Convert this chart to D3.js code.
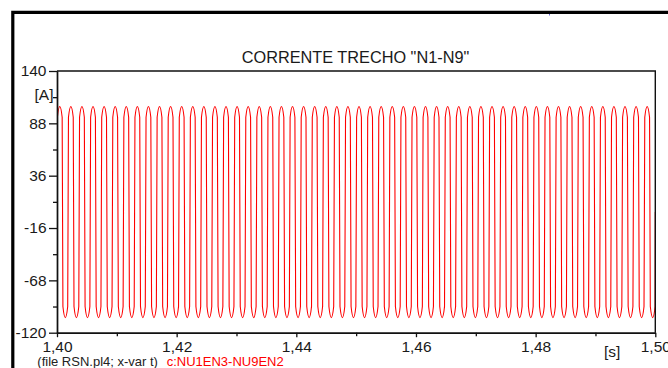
<!DOCTYPE html>
<html>
<head>
<meta charset="utf-8">
<script src="https://cdn.jsdelivr.net/npm/d3@7"></script>
<style>
  html, body { margin: 0; padding: 0; background: #fff; }
  svg { display: block; font-family: "Liberation Sans", Arial, sans-serif; }
</style>
</head>
<body>
<svg id="chart" width="668" height="368"></svg>
<script>
// ---- data -------------------------------------------------------------
const title = 'CORRENTE TRECHO "N1-N9"';
const yMajorTicks = [140, 88, 36, -16, -68, -120];
const yMinorTicks = [114, 62, 10, -42, -94];
const xMajorTicks = [1.40, 1.42, 1.44, 1.46, 1.48, 1.50];
const xMinorTicks = [1.41, 1.43, 1.45, 1.47, 1.49];
const yUnit = "[A]";
const xUnit = "[s]";
const fileNote = "(file RSN.pl4; x-var t)";
const seriesName = "c:NU1EN3-NU9EN2";

// current waveform vertices: start, then for every crest / trough its
// leading shoulder, the extreme and its trailing shoulder, then the end  [s]
const time = [
  1.400000,
  1.400063, 1.400463, 1.400863,  1.400989, 1.401389, 1.401789,
  1.401915, 1.402315, 1.402715,  1.402842, 1.403242, 1.403642,
  1.403768, 1.404168, 1.404568,  1.404694, 1.405094, 1.405494,
  1.405620, 1.406020, 1.406420,  1.406546, 1.406946, 1.407346,
  1.407473, 1.407873, 1.408273,  1.408399, 1.408799, 1.409199,
  1.409325, 1.409725, 1.410125,  1.410251, 1.410651, 1.411051,
  1.411177, 1.411577, 1.411977,  1.412104, 1.412504, 1.412904,
  1.413030, 1.413430, 1.413830,  1.413956, 1.414356, 1.414756,
  1.414882, 1.415282, 1.415682,  1.415808, 1.416208, 1.416608,
  1.416735, 1.417135, 1.417535,  1.417661, 1.418061, 1.418461,
  1.418587, 1.418987, 1.419387,  1.419513, 1.419913, 1.420313,
  1.420439, 1.420839, 1.421239,  1.421366, 1.421766, 1.422166,
  1.422292, 1.422692, 1.423092,  1.423218, 1.423618, 1.424018,
  1.424144, 1.424544, 1.424944,  1.425070, 1.425470, 1.425870,
  1.425997, 1.426397, 1.426797,  1.426923, 1.427323, 1.427723,
  1.427849, 1.428249, 1.428649,  1.428775, 1.429175, 1.429575,
  1.429701, 1.430101, 1.430501,  1.430628, 1.431028, 1.431428,
  1.431554, 1.431954, 1.432354,  1.432480, 1.432880, 1.433280,
  1.433406, 1.433806, 1.434206,  1.434332, 1.434732, 1.435132,
  1.435259, 1.435659, 1.436059,  1.436185, 1.436585, 1.436985,
  1.437111, 1.437511, 1.437911,  1.438037, 1.438437, 1.438837,
  1.438963, 1.439363, 1.439763,  1.439890, 1.440290, 1.440690,
  1.440816, 1.441216, 1.441616,  1.441742, 1.442142, 1.442542,
  1.442668, 1.443068, 1.443468,  1.443594, 1.443994, 1.444394,
  1.444521, 1.444921, 1.445321,  1.445447, 1.445847, 1.446247,
  1.446373, 1.446773, 1.447173,  1.447299, 1.447699, 1.448099,
  1.448225, 1.448625, 1.449025,  1.449152, 1.449552, 1.449952,
  1.450078, 1.450478, 1.450878,  1.451004, 1.451404, 1.451804,
  1.451930, 1.452330, 1.452730,  1.452856, 1.453256, 1.453656,
  1.453783, 1.454183, 1.454583,  1.454709, 1.455109, 1.455509,
  1.455635, 1.456035, 1.456435,  1.456561, 1.456961, 1.457361,
  1.457487, 1.457887, 1.458287,  1.458414, 1.458814, 1.459214,
  1.459340, 1.459740, 1.460140,  1.460266, 1.460666, 1.461066,
  1.461192, 1.461592, 1.461992,  1.462118, 1.462518, 1.462918,
  1.463045, 1.463445, 1.463845,  1.463971, 1.464371, 1.464771,
  1.464897, 1.465297, 1.465697,  1.465823, 1.466223, 1.466623,
  1.466749, 1.467149, 1.467549,  1.467676, 1.468076, 1.468476,
  1.468602, 1.469002, 1.469402,  1.469528, 1.469928, 1.470328,
  1.470454, 1.470854, 1.471254,  1.471380, 1.471780, 1.472180,
  1.472307, 1.472707, 1.473107,  1.473233, 1.473633, 1.474033,
  1.474159, 1.474559, 1.474959,  1.475085, 1.475485, 1.475885,
  1.476011, 1.476411, 1.476811,  1.476938, 1.477338, 1.477738,
  1.477864, 1.478264, 1.478664,  1.478790, 1.479190, 1.479590,
  1.479716, 1.480116, 1.480516,  1.480642, 1.481042, 1.481442,
  1.481569, 1.481969, 1.482369,  1.482495, 1.482895, 1.483295,
  1.483421, 1.483821, 1.484221,  1.484347, 1.484747, 1.485147,
  1.485273, 1.485673, 1.486073,  1.486200, 1.486600, 1.487000,
  1.487126, 1.487526, 1.487926,  1.488052, 1.488452, 1.488852,
  1.488978, 1.489378, 1.489778,  1.489904, 1.490304, 1.490704,
  1.490831, 1.491231, 1.491631,  1.491757, 1.492157, 1.492557,
  1.492683, 1.493083, 1.493483,  1.493609, 1.494009, 1.494409,
  1.494535, 1.494935, 1.495335,  1.495462, 1.495862, 1.496262,
  1.496388, 1.496788, 1.497188,  1.497314, 1.497714, 1.498114,
  1.498240, 1.498640, 1.499040,  1.499166, 1.499566, 1.499966,
  1.500000
];
// current at those vertices  [A]
const current = [
  0,
  94, 104.8, 94,  -94, -105, -94,   94, 104.8, 94,  -94, -105, -94,
  94, 104.8, 94,  -94, -105, -94,   94, 104.8, 94,  -94, -105, -94,
  94, 104.8, 94,  -94, -105, -94,   94, 104.8, 94,  -94, -105, -94,
  94, 104.8, 94,  -94, -105, -94,   94, 104.8, 94,  -94, -105, -94,
  94, 104.8, 94,  -94, -105, -94,   94, 104.8, 94,  -94, -105, -94,
  94, 104.8, 94,  -94, -105, -94,   94, 104.8, 94,  -94, -105, -94,
  94, 104.8, 94,  -94, -105, -94,   94, 104.8, 94,  -94, -105, -94,
  94, 104.8, 94,  -94, -105, -94,   94, 104.8, 94,  -94, -105, -94,
  94, 104.8, 94,  -94, -105, -94,   94, 104.8, 94,  -94, -105, -94,
  94, 104.8, 94,  -94, -105, -94,   94, 104.8, 94,  -94, -105, -94,
  94, 104.8, 94,  -94, -105, -94,   94, 104.8, 94,  -94, -105, -94,
  94, 104.8, 94,  -94, -105, -94,   94, 104.8, 94,  -94, -105, -94,
  94, 104.8, 94,  -94, -105, -94,   94, 104.8, 94,  -94, -105, -94,
  94, 104.8, 94,  -94, -105, -94,   94, 104.8, 94,  -94, -105, -94,
  94, 104.8, 94,  -94, -105, -94,   94, 104.8, 94,  -94, -105, -94,
  94, 104.8, 94,  -94, -105, -94,   94, 104.8, 94,  -94, -105, -94,
  94, 104.8, 94,  -94, -105, -94,   94, 104.8, 94,  -94, -105, -94,
  94, 104.8, 94,  -94, -105, -94,   94, 104.8, 94,  -94, -105, -94,
  94, 104.8, 94,  -94, -105, -94,   94, 104.8, 94,  -94, -105, -94,
  94, 104.8, 94,  -94, -105, -94,   94, 104.8, 94,  -94, -105, -94,
  94, 104.8, 94,  -94, -105, -94,   94, 104.8, 94,  -94, -105, -94,
  94, 104.8, 94,  -94, -105, -94,   94, 104.8, 94,  -94, -105, -94,
  94, 104.8, 94,  -94, -105, -94,   94, 104.8, 94,  -94, -105, -94,
  94, 104.8, 94,  -94, -105, -94,   94, 104.8, 94,  -94, -105, -94,
  94, 104.8, 94,  -94, -105, -94,   94, 104.8, 94,  -94, -105, -94,
  94, 104.8, 94,  -94, -105, -94,   94, 104.8, 94,  -94, -105, -94,
  94, 104.8, 94,  -94, -105, -94,   94, 104.8, 94,  -94, -105, -94,
  0
];

// ---- layout -----------------------------------------------------------
const plot = { left: 57, right: 655.3, top: 71, bottom: 332.7 };
const svg = d3.select("#chart");
const ink = "#111";
const red = "#ff0000";

const x = d3.scaleLinear().domain([1.40, 1.50]).range([plot.left, plot.right]);
const y = d3.scaleLinear().domain([-120, 140]).range([plot.bottom, plot.top]);

// outer window frame (top and left edges)
svg.append("path")
  .attr("d", "M668,12.4H12.8V368")
  .attr("fill", "none")
  .attr("stroke", "#000")
  .attr("stroke-width", 3.2);

// title
svg.append("text")
  .attr("x", 355.5).attr("y", 63.3)
  .attr("text-anchor", "middle")
  .attr("font-size", 16.3)
  .attr("fill", "#1a1a1a")
  .text(title);

// waveform, clipped to the plot box
svg.append("clipPath").attr("id", "plotClip")
  .append("rect")
  .attr("x", plot.left).attr("y", plot.top)
  .attr("width", plot.right - plot.left).attr("height", plot.bottom - plot.top);

const line = d3.line()
  .x((d, i) => x(time[i]))
  .y(d => y(d))
  .curve(d3.curveMonotoneX);

svg.append("path")
  .datum(current)
  .attr("clip-path", "url(#plotClip)")
  .attr("d", line)
  .attr("fill", "none")
  .attr("stroke", red)
  .attr("stroke-width", 1.1);

// plot frame: top and right edges
svg.append("path")
  .attr("d", `M${plot.left},${plot.top}H${plot.right}V${plot.bottom}`)
  .attr("fill", "none")
  .attr("stroke", ink)
  .attr("stroke-width", 1.4);

// y axis
const yAxisMajor = d3.axisLeft(y).tickValues(yMajorTicks).tickFormat(d => String(d))
  .tickSize(8).tickSizeOuter(0).tickPadding(2.5);
const yAxisMinor = d3.axisLeft(y).tickValues(yMinorTicks).tickFormat("")
  .tickSize(4).tickSizeOuter(0);

const gyMinor = svg.append("g").attr("transform", `translate(${plot.left},0)`).call(yAxisMinor);
const gy = svg.append("g").attr("transform", `translate(${plot.left},0)`).call(yAxisMajor);

// x axis
const fmtX = v => v.toFixed(2).replace(".", ",");
const xAxisMajor = d3.axisBottom(x).tickValues(xMajorTicks).tickFormat(fmtX)
  .tickSize(4.5).tickSizeOuter(0).tickPadding(3.8);
const xAxisMinor = d3.axisBottom(x).tickValues(xMinorTicks).tickFormat("")
  .tickSize(3.5).tickSizeOuter(0);

const gxMinor = svg.append("g").attr("transform", `translate(0,${plot.bottom})`).call(xAxisMinor);
const gx = svg.append("g").attr("transform", `translate(0,${plot.bottom})`).call(xAxisMajor);

for (const g of [gy, gyMinor, gx, gxMinor]) {
  g.select(".domain").attr("stroke", ink).attr("stroke-width", 1.4);
  g.selectAll(".tick line").attr("stroke", ink).attr("stroke-width", 1.3);
  g.selectAll(".tick text")
    .attr("font-family", "Liberation Sans, Arial, sans-serif")
    .attr("font-size", 15.5)
    .attr("fill", "#1a1a1a");
}

// unit labels
svg.append("text")
  .attr("x", 53.5).attr("y", 99.5)
  .attr("text-anchor", "end")
  .attr("font-size", 15.5)
  .attr("fill", "#1a1a1a")
  .text(yUnit);

svg.append("text")
  .attr("x", 604).attr("y", 356.5)
  .attr("font-size", 15.5)
  .attr("fill", "#1a1a1a")
  .text(xUnit);

// footer: source file and curve name
svg.append("text")
  .attr("x", 37.3).attr("y", 365.8)
  .attr("font-size", 13)
  .attr("fill", "#222")
  .text(fileNote);

svg.append("text")
  .attr("x", 166.7).attr("y", 365.8)
  .attr("font-size", 13)
  .attr("fill", red)
  .text(seriesName);

// small marker on the frame edge
svg.append("rect")
  .attr("x", 549).attr("y", 14).attr("width", 1).attr("height", 1.5)
  .attr("fill", "#6a6adf");
</script>
</body>
</html>
